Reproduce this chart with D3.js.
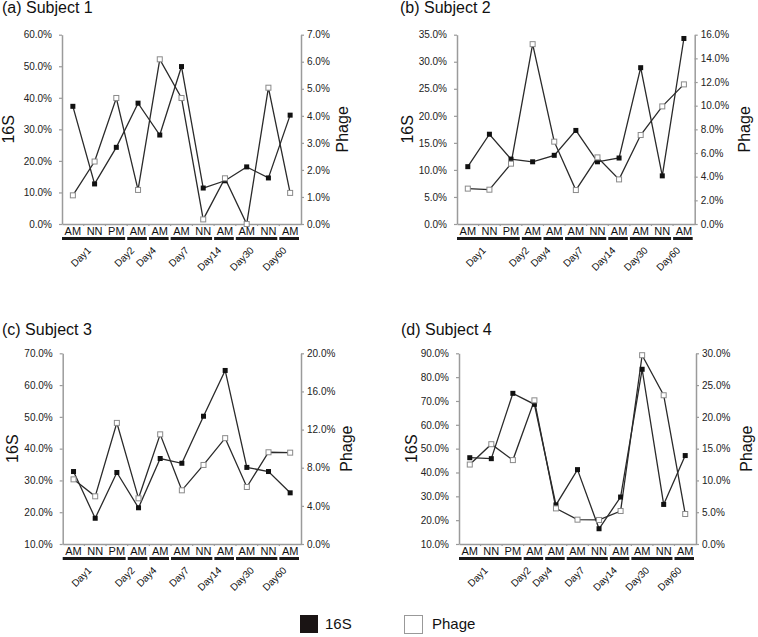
<!DOCTYPE html>
<html>
<head>
<meta charset="utf-8">
<script src="https://cdn.jsdelivr.net/npm/d3@7"></script>
<style>
  body { margin: 0; background: #fff; }
  svg { display: block; font-family: "Liberation Sans", Arial, Helvetica, sans-serif; }
</style>
</head>
<body>
<div id="chart"></div>
<script>
// Sampling times (x axis) and the day each one belongs to
const timeLabels = ["AM", "NN", "PM", "AM", "AM", "AM", "NN", "AM", "AM", "NN", "AM"];
const dayOfSample = ["Day1", "Day1", "Day1", "Day2", "Day4", "Day7", "Day7", "Day14", "Day30", "Day30", "Day60"];

// Subject titles
const titles = ["(a) Subject 1", "(b) Subject 2", "(c) Subject 3", "(d) Subject 4"];

// 16S relative abundance (%), left axis
const s16Subject1 = [37.3, 12.7, 24.3, 38.3, 28.2, 49.9, 11.4, 13.7, 18.1, 14.6, 34.5];
const s16Subject2 = [10.6, 16.6, 12.0, 11.5, 12.7, 17.3, 11.5, 12.2, 28.9, 8.9, 34.3];
const s16Subject3 = [32.8, 18.1, 32.5, 21.4, 36.9, 35.4, 50.2, 64.6, 34.1, 32.8, 26.1];
const s16Subject4 = [46.2, 45.8, 73.2, 68.6, 26.4, 41.2, 16.4, 29.7, 83.3, 26.6, 47.1];

// Phage relative abundance (%), right axis
const phageSubject1 = [1.06, 2.31, 4.66, 1.26, 6.09, 4.66, 0.17, 1.69, 0.0, 5.04, 1.15];
const phageSubject2 = [2.99, 2.90, 5.10, 15.2, 6.96, 2.87, 5.63, 3.77, 7.52, 9.94, 11.8];
const phageSubject3 = [6.78, 5.0, 12.7, 4.79, 11.5, 5.63, 8.29, 11.1, 5.98, 9.62, 9.58];
const phageSubject4 = [12.5, 15.7, 13.2, 22.6, 5.6, 3.83, 3.78, 5.19, 29.7, 23.4, 4.72];

// Axis tick values
const leftTicks1 = [0, 10, 20, 30, 40, 50, 60];
const leftTicks2 = [0, 5, 10, 15, 20, 25, 30, 35];
const leftTicks3 = [10, 20, 30, 40, 50, 60, 70];
const leftTicks4 = [10, 20, 30, 40, 50, 60, 70, 80, 90];
const rightTicks1 = [0, 1, 2, 3, 4, 5, 6, 7];
const rightTicks2 = [0, 2, 4, 6, 8, 10, 12, 14, 16];
const rightTicks3 = [0, 4, 8, 12, 16, 20];
const rightTicks4 = [0, 5, 10, 15, 20, 25, 30];

const legendLabels = ["16S", "Phage"];

const width = 758;
const height = 637;

// panel frames
const panels = [
  { left: 62, right: 301, top: 34.7, bottom: 224, titleX: 2, titleY: 13, y16: 14, yPh: 348,
    s16: s16Subject1, phage: phageSubject1, lt: leftTicks1, rt: rightTicks1 },
  { left: 457, right: 694.7, top: 34.7, bottom: 224, titleX: 400, titleY: 13, y16: 413, yPh: 750,
    s16: s16Subject2, phage: phageSubject2, lt: leftTicks2, rt: rightTicks2 },
  { left: 62.7, right: 301, top: 353.3, bottom: 544, titleX: 2, titleY: 335, y16: 18, yPh: 352,
    s16: s16Subject3, phage: phageSubject3, lt: leftTicks3, rt: rightTicks3 },
  { left: 459, right: 696, top: 353.3, bottom: 544, titleX: 401, titleY: 335, y16: 417, yPh: 752,
    s16: s16Subject4, phage: phageSubject4, lt: leftTicks4, rt: rightTicks4 },
];

const axisColor = "#9b9b9b";
const lineColor = "#2a2a2a";

const svg = d3.select("#chart").append("svg")
  .attr("width", width)
  .attr("height", height)
  .attr("viewBox", [0, 0, width, height]);

panels.forEach((p, k) => {
  const g = svg.append("g");
  const idx = d3.range(timeLabels.length);

  const x = d3.scaleBand().domain(idx).range([p.left, p.right]).padding(0);
  const cx = i => x(i) + x.bandwidth() / 2;
  const yL = d3.scaleLinear().domain(d3.extent(p.lt)).range([p.bottom, p.top]);
  const yR = d3.scaleLinear().domain(d3.extent(p.rt)).range([p.bottom, p.top]);
  const fmt = d => d.toFixed(1) + "%";

  // title
  g.append("text")
    .attr("x", p.titleX).attr("y", p.titleY)
    .attr("font-size", 16).attr("fill", "#111")
    .text(titles[k]);

  // left axis
  const la = g.append("g").attr("transform", `translate(${p.left},0)`)
    .call(d3.axisLeft(yL).tickValues(p.lt).tickFormat(fmt).tickSize(3).tickSizeOuter(0).tickPadding(7));
  // right axis
  const ra = g.append("g").attr("transform", `translate(${p.right},0)`)
    .call(d3.axisRight(yR).tickValues(p.rt).tickFormat(fmt).tickSize(3).tickSizeOuter(0).tickPadding(3));
  // bottom axis line
  const ba = g.append("g").attr("transform", `translate(0,${p.bottom})`)
    .call(d3.axisBottom(x).tickValues(idx.slice(1)).tickFormat("").tickSize(2).tickSizeOuter(0));
  ba.selectAll(".tick line").attr("transform", `translate(${-x.bandwidth() / 2},0)`);

  [la, ra, ba].forEach(a => {
    a.select(".domain").attr("stroke", axisColor).attr("stroke-width", 1.5);
    a.selectAll(".tick line").attr("stroke", axisColor).attr("stroke-width", 1.2);
    a.selectAll(".tick text").attr("font-size", 10).attr("fill", "#222")
      .attr("font-family", "Liberation Sans, Arial, sans-serif");
  });

  // axis titles
  const midY = (p.top + p.bottom) / 2;
  g.append("text")
    .attr("transform", `translate(${p.y16},${midY}) rotate(-90)`)
    .attr("text-anchor", "middle").attr("font-size", 16).attr("fill", "#111")
    .text("16S");
  g.append("text")
    .attr("transform", `translate(${p.yPh},${midY}) rotate(-90)`)
    .attr("text-anchor", "middle").attr("font-size", 16).attr("fill", "#111")
    .text("Phage");

  // sample time labels
  g.append("g").selectAll("text")
    .data(idx)
    .join("text")
    .attr("x", cx).attr("y", p.bottom + 11)
    .attr("text-anchor", "middle").attr("font-size", 11).attr("fill", "#111")
    .text(i => timeLabels[i]);

  // day group bars and labels
  const groups = d3.groups(idx, i => dayOfSample[i]);
  const gg = g.append("g").selectAll("g").data(groups).join("g");
  gg.append("line")
    .attr("x1", d => x(d[1][0]))
    .attr("x2", d => x(d[1][d[1].length - 1]) + x.bandwidth() - 2)
    .attr("y1", p.bottom + 14.5).attr("y2", p.bottom + 14.5)
    .attr("stroke", "#1a1a1a").attr("stroke-width", 3);
  gg.append("text")
    .attr("transform", d => {
      const c = (x(d[1][0]) + x(d[1][d[1].length - 1]) + x.bandwidth()) / 2 - 3;
      return `translate(${c},${p.bottom + 27}) rotate(-45)`;
    })
    .attr("text-anchor", "end").attr("font-size", 10).attr("fill", "#111")
    .text(d => d[0]);

  // lines
  const l16 = d3.line().x((d, i) => cx(i)).y(d => yL(d));
  const lPh = d3.line().x((d, i) => cx(i)).y(d => yR(d));
  g.append("path").datum(p.s16).attr("d", l16)
    .attr("fill", "none").attr("stroke", lineColor).attr("stroke-width", 1.3);
  g.append("path").datum(p.phage).attr("d", lPh)
    .attr("fill", "none").attr("stroke", lineColor).attr("stroke-width", 1.3);

  const ms = 5;
  g.append("g").selectAll("rect").data(p.s16).join("rect")
    .attr("x", (d, i) => cx(i) - ms / 2).attr("y", d => yL(d) - ms / 2)
    .attr("width", ms).attr("height", ms).attr("fill", "#111");
  g.append("g").selectAll("rect").data(p.phage).join("rect")
    .attr("x", (d, i) => cx(i) - ms / 2).attr("y", d => yR(d) - ms / 2)
    .attr("width", ms).attr("height", ms).attr("fill", "#fff")
    .attr("stroke", "#8a8a8a").attr("stroke-width", 1);
});

// legend
const legend = svg.append("g").selectAll("g").data(legendLabels).join("g")
  .attr("transform", (d, i) => `translate(${300 + i * 104},615)`);
legend.append("rect")
  .attr("x", (d, i) => i ? 0.5 : 0).attr("y", (d, i) => i ? 0.5 : 0)
  .attr("width", 18).attr("height", 18)
  .attr("fill", (d, i) => i ? "#fff" : "#1a1414")
  .attr("stroke", (d, i) => i ? "#999" : "none");
legend.append("text")
  .attr("x", (d, i) => i ? 28 : 25).attr("y", 14)
  .attr("font-size", 15).attr("fill", "#111")
  .text(d => d);
</script>
</body>
</html>
